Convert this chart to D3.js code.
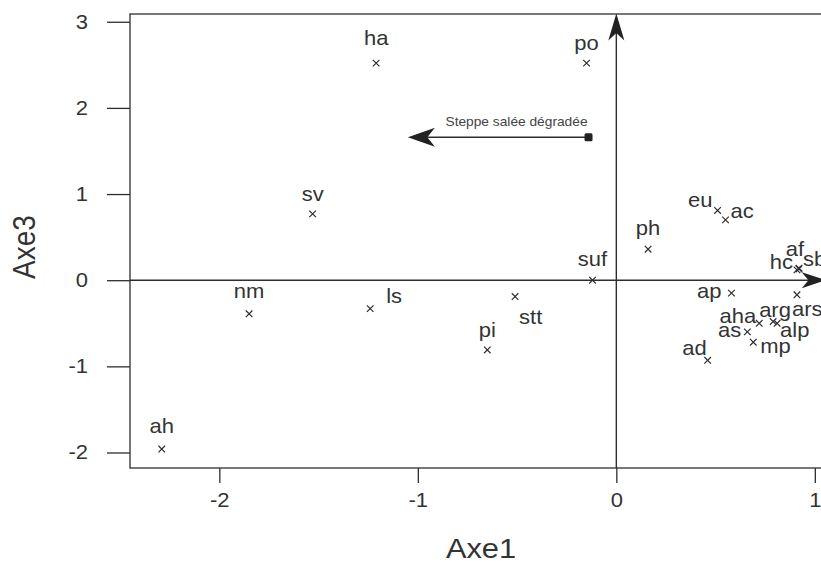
<!DOCTYPE html>
<html>
<head>
<meta charset="utf-8">
<script src="https://cdn.jsdelivr.net/npm/d3@7"></script>
<style>
  html, body { margin: 0; padding: 0; background: #fff; }
  svg { display: block; }
  text { font-family: "Liberation Sans", Arial, sans-serif; }
</style>
</head>
<body>
<svg id="chart" width="821" height="566"></svg>
<script>
// ---- data ----
const names = ["ha","po","sv","nm","ls","ah","pi","stt","suf","ph","eu","ac","af","hc","sb","ap","ars","arg","aha","alp","as","mp","ad"];
const axe1  = [-1.21,-0.15,-1.53,-1.85,-1.24,-2.29,-0.65,-0.51,-0.12,0.16,0.51,0.55,0.92,0.91,0.92,0.58,0.91,0.79,0.72,0.81,0.66,0.69,0.46];
const axe3  = [ 2.52, 2.52, 0.77,-0.39,-0.33,-1.96,-0.81,-0.19, 0.00,0.36,0.81,0.70,0.14,0.12,0.13,-0.15,-0.17,-0.48,-0.50,-0.50,-0.60,-0.72,-0.93];
const xTicks = [-2, -1, 0, 1];
const yTicks = [-2, -1, 0, 1, 2, 3];
const xTitle = "Axe1";
const yTitle = "Axe3";
// supplementary variable arrow (from dot to arrow tip)
const suppName = "Steppe salée dégradée";
const suppFrom = [-0.14, 1.66];
const suppTo   = [-1.05, 1.66];

// ---- label placement (anchor, dx, dy in px) ----
const labelPlace = {
  ha:["middle",0,-18], po:["middle",0,-13], sv:["middle",0,-13], nm:["middle",0,-16],
  ls:["start",16,-6], ah:["middle",0,-16], pi:["middle",0,-13], stt:["start",4,27],
  suf:["middle",0,-14], ph:["middle",0,-14], eu:["end",-5,-3], ac:["start",5,-2],
  af:["middle",-4,-12], hc:["end",-4,-1], sb:["start",4,-3], ap:["end",-10,5],
  ars:["start",-5,21], arg:["start",-14,-5], aha:["end",-3,0], alp:["start",3,14],
  as:["end",-6,5], mp:["start",7,11], ad:["end",-1,-5]
};

const ink = "#2e2e2e";
const SX = 1.1; // horizontal text stretch of the original scan
const svg = d3.select("#chart");
const L = 130, T = 14, B = 468;
const x = d3.scaleLinear().domain([-2.45, 1.1]).range([L, L + 3.55 * 198.5]);
const y = d3.scaleLinear().domain([-2.18, 3.09]).range([B, T]);
const fmt = d => String(d);

// frame
svg.append("rect").attr("x", L).attr("y", T)
  .attr("width", x(1.1) - L).attr("height", B - T)
  .attr("fill", "none").attr("stroke", ink).attr("stroke-width", 1.3);

// axes
const gx = svg.append("g").attr("transform", `translate(0,${B})`)
  .call(d3.axisBottom(x).tickValues(xTicks).tickFormat(fmt).tickSize(15).tickPadding(10));
const gy = svg.append("g").attr("transform", `translate(${L},0)`)
  .call(d3.axisLeft(y).tickValues(yTicks).tickFormat(fmt).tickSize(23).tickPadding(19));
[gx, gy].forEach(g => {
  g.select(".domain").remove();
  g.selectAll(".tick line").attr("stroke", ink).attr("stroke-width", 1.3);
  g.selectAll(".tick text").attr("fill", "#333").style("font-size", "20px")
    .style("font-family", "'Liberation Sans', Arial, sans-serif");
});
gx.selectAll(".tick text").attr("transform", `scale(${SX},1)`);
gy.selectAll(".tick text").attr("x", -(23 + 19) / SX).attr("transform", `scale(${SX},1)`);

// axis titles
svg.append("text").attr("transform", `translate(481,558) scale(${SX},1)`)
  .attr("text-anchor", "middle").attr("fill", "#333").style("font-size", "28px").text(xTitle);
svg.append("text").attr("transform", `translate(35,${(T + B) / 2 + 6}) rotate(-90) scale(1,${SX})`)
  .attr("text-anchor", "middle").attr("fill", "#333").style("font-size", "28px").text(yTitle);

// arrow head helper: tip at (tx,ty), pointing in direction angle (radians)
function arrowHead(tx, ty, ang, len, wid) {
  const c = Math.cos(ang), s = Math.sin(ang);
  const pt = (a, b) => [tx - a * c - b * s, ty - a * s + b * c];
  const p1 = pt(len, wid / 2), p2 = pt(len * 0.72, 0), p3 = pt(len, -wid / 2);
  return `M${tx},${ty}L${p1}L${p2}L${p3}Z`;
}

// origin axes with arrows
svg.append("line").attr("x1", x(0)).attr("x2", x(0)).attr("y1", B).attr("y2", y(3.08) + 10)
  .attr("stroke", ink).attr("stroke-width", 1.4);
svg.append("path").attr("d", arrowHead(x(0), y(3.095), -Math.PI / 2, 27, 16)).attr("fill", "#222");
svg.append("line").attr("x1", L).attr("x2", x(1.055) - 10).attr("y1", y(0)).attr("y2", y(0))
  .attr("stroke", ink).attr("stroke-width", 1.4);
svg.append("path").attr("d", arrowHead(x(1.055), y(0), 0, 24, 16)).attr("fill", "#222");

// supplementary arrow
svg.append("line").attr("x1", x(suppFrom[0])).attr("x2", x(suppTo[0]) + 12)
  .attr("y1", y(suppFrom[1])).attr("y2", y(suppTo[1])).attr("stroke", ink).attr("stroke-width", 1.5);
svg.append("path").attr("d", arrowHead(x(suppTo[0]), y(suppTo[1]), Math.PI, 27, 19)).attr("fill", "#222");
svg.append("rect").attr("x", x(suppFrom[0]) - 4).attr("y", y(suppFrom[1]) - 4)
  .attr("width", 8).attr("height", 8).attr("rx", 1.5).attr("fill", "#222");
svg.append("text").attr("transform", `translate(${x(suppFrom[0]) - 1},${y(suppFrom[1]) - 11}) scale(${SX},1)`)
  .attr("text-anchor", "end")
  .attr("fill", "#444").style("font-size", "12.5px").text(suppName);

// points
const pts = names.map((n, i) => ({ n, px: x(axe1[i]), py: y(axe3[i]) }));
const m = 3.3;
const g = svg.append("g");
g.selectAll("path.pt").data(pts).join("path").attr("class", "pt")
  .attr("d", d => `M${d.px - m},${d.py - m}L${d.px + m},${d.py + m}M${d.px - m},${d.py + m}L${d.px + m},${d.py - m}`)
  .attr("stroke", ink).attr("stroke-width", 1.2).attr("fill", "none");
g.selectAll("text.lab").data(pts).join("text").attr("class", "lab")
  .attr("transform", d => {
    const p = labelPlace[d.n];
    return `translate(${d.px + p[1]},${d.py + p[2]}) scale(${SX},1)`;
  })
  .attr("text-anchor", d => labelPlace[d.n][0])
  .attr("fill", "#333").style("font-size", "20px").text(d => d.n);
</script>
</body>
</html>
